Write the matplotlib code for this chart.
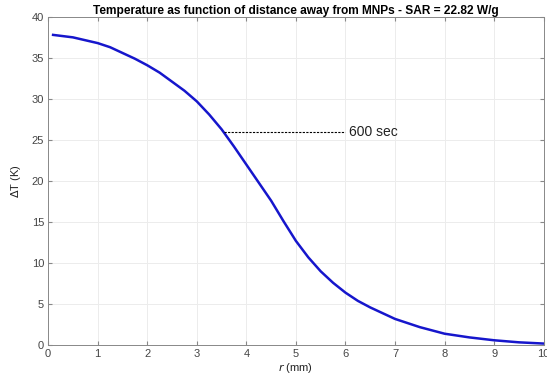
import numpy as np
import matplotlib
matplotlib.use("Agg")
import matplotlib.pyplot as plt

plt.rcParams["font.family"] = ["Liberation Sans", "DejaVu Sans"]

# values
r_mm = [0.1, 0.5, 1.0, 1.25, 1.5, 1.75, 2.0, 2.25, 2.5, 2.75, 3.0, 3.25, 3.5,
        3.75, 4.0, 4.25, 4.5, 4.75, 5.0, 5.25, 5.5, 5.75, 6.0, 6.25, 6.5,
        7.0, 7.5, 8.0, 8.5, 9.0, 9.5, 10.0]
delta_T = [37.8, 37.5, 36.8, 36.3, 35.6, 34.9, 34.1, 33.2, 32.1, 31.0, 29.7, 28.1, 26.3,
           24.2, 22.0, 19.8, 17.6, 15.1, 12.7, 10.7, 9.0, 7.6, 6.4, 5.4, 4.6,
           3.2, 2.2, 1.4, 0.95, 0.6, 0.35, 0.2]
label_r = [3.55, 6.0]
label_T = 26.0
label_text = "600 sec"

fig = plt.figure(figsize=(5.47, 3.74), dpi=100)
ax = fig.add_axes([0.088, 0.077, 0.906, 0.878])

ax.plot(r_mm, delta_T, color="#1616cc", linewidth=1.8)
ax.plot(label_r, [label_T, label_T], "k--", linewidth=0.8, dashes=(2, 1.2))
ax.text(label_r[1] + 0.08, label_T, label_text, fontsize=10, va="center", color="#222222")

ax.set_xlim(0, 10)
ax.set_ylim(0, 40)
ax.set_xticks(np.arange(0, 11, 1))
ax.set_yticks(np.arange(0, 41, 5))
ax.grid(True, color="#ececec", linewidth=0.7)
ax.set_axisbelow(True)
ax.tick_params(direction="in", top=True, right=True, labelsize=8,
               labelcolor="#444444", color="#888888", length=3, pad=3)
for s in ax.spines.values():
    s.set_color("#888888")
    s.set_linewidth(0.7)

ax.set_title("Temperature as function of distance away from MNPs - SAR = 22.82 W/g",
             fontsize=8.6, fontweight="bold", pad=2)
ax.set_xlabel("$r$ (mm)", fontsize=8, labelpad=1, color="#222222")
ax.set_ylabel(r"$\Delta$T (K)", fontsize=8, labelpad=6, color="#222222")

fig.savefig("out.png", dpi=100)
